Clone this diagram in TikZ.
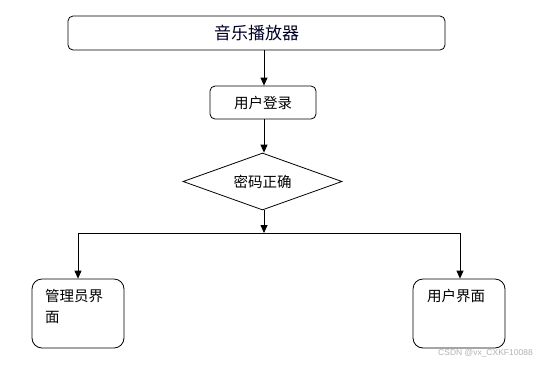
\documentclass[tikz,border=0pt]{standalone}
\usepackage{fontspec}
\newfontfamily\cjk{Noto Sans CJK SC}
\newfontfamily\markfont{Liberation Sans}
\usetikzlibrary{arrows.meta,shapes.geometric}

\tikzset{
  box/.style={draw, thick, rounded corners=5pt, font=\cjk\fontsize{14.5}{18}\selectfont},
  page/.style={draw, thick, rounded corners=10pt},
  flow/.style={thick, -{Triangle[width=7pt,length=8pt]}},
}

\begin{document}
\begin{tikzpicture}[x=1pt,y=-1pt]
		\useasboundingbox (0,0) rectangle (535,365);

		% Top title and login step
		\node[box, minimum width=377pt, minimum height=34pt, font=\cjk\fontsize{17}{20}\selectfont, text=black!85!blue] (player) at (256.5,33) {音乐播放器};
		\node[box, minimum width=106pt, minimum height=33pt] (login) at (263,102.5) {用户登录};

		% Password check
		\node[draw, thick, diamond, aspect=2.8, minimum width=159pt, minimum height=57pt, inner sep=0pt,
			font=\cjk\fontsize{14.5}{18}\selectfont] (check) at (262.5,181.5) {密码正确};

		% Result pages
		\node[page, minimum width=92pt, minimum height=69pt] (admin) at (78,313.5) {};
		\node[page, minimum width=92pt, minimum height=69pt] (user) at (459,313.5) {};
		\node[anchor=north west, inner sep=0pt, align=left, font=\cjk\fontsize{14.5}{21}\selectfont] (admintext) at (45,289) {管理员界\\面};
		\node[anchor=north, inner sep=0pt, font=\cjk\fontsize{14.5}{18}\selectfont] (usertext) at (456,289) {用户界面};

		% Branch line
		\coordinate (split) at (264,233);
		\coordinate (leftend) at (78,233);
		\coordinate (rightend) at (460,233);

		% Connectors
		\draw[flow] (player.south -| split) -- (login.north -| split);
		\draw[flow] (login.south -| split) -- (check.north -| split);
		\draw[flow] (check.south -| split) -- (split);
		\draw[thick] (leftend) -- (rightend);
		\draw[flow] (leftend) -- (admin.north);
		\draw[flow] (rightend) -- (user.north -| rightend);

		% Watermark
		\node[text=black!30, font=\markfont\fontsize{8.5}{10}\selectfont, anchor=east, inner sep=0pt] (mark) at (533,353) {CSDN @vx\_CXKF10088};
	\end{tikzpicture}
\end{document}
